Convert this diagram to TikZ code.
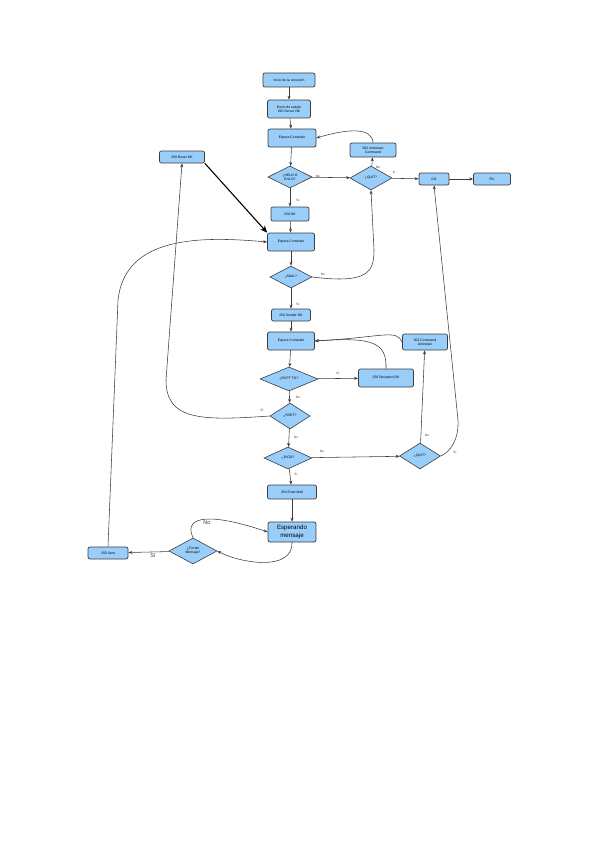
\documentclass[tikz,border=0pt]{standalone}
\usepackage{fontspec}
\setmainfont{Liberation Sans}
\usepackage{tikz}
\usetikzlibrary{arrows.meta,shapes.geometric}
\definecolor{boxblue}{RGB}{153,206,250}
\definecolor{edge}{RGB}{60,60,60}
\tikzset{
    box/.style={
        draw=edge,
        rounded corners=2pt,
        align=center,
        line width=0.7pt,
        inner sep=0.5pt,
        font=\fontsize{3.4}{4}\selectfont,
        fill=boxblue
    },
    decision/.style={
        draw=edge,
        diamond,
        aspect=2,
        align=center,
        inner sep=0pt,
        line width=0.6pt,
        font=\fontsize{3.4}{4}\selectfont,
        fill=boxblue
    },
    flow/.style={-{Stealth[length=4pt,width=3pt]}, draw=edge, line width=0.55pt},
    bigflow/.style={-{Stealth[length=7pt,width=6pt]}, draw=black, line width=1.1pt},
    lbl/.style={font=\fontsize{3.2}{4}\selectfont, inner sep=0pt, text=edge},
    biglbl/.style={font=\fontsize{5.5}{6}\selectfont, inner sep=0pt, text=edge}
}

\begin{document}
\begin{tikzpicture}[x=1pt, y=-1pt]
        \useasboundingbox (0,0) rectangle (599,848);
        % start of the session
        \node[box, minimum width=52pt, minimum height=14pt] (inicio) at (289,80) {Inicio de la conexión};
        \node[box, minimum width=43pt, minimum height=18pt] (saludo) at (289,109) {Envío de saludo\\220 Server OK};
        \node[box, minimum width=48pt, minimum height=18pt] (esp1) at (292,138) {Espera Comando};
        \node[box, minimum width=46pt, minimum height=14pt] (unk1) at (373,150) {502 Unknown\\Command};
        \node[box, minimum width=45pt, minimum height=12pt] (reset) at (182,157) {250 Reset OK};
        \node[decision, minimum width=44pt, minimum height=22pt] (helo) at (290,177) {¿HELO O\\EHLO?};
        \node[decision, minimum width=42pt, minimum height=24pt] (quit1) at (371,178) {¿QUIT?};
        \node[box, minimum width=30pt, minimum height=12pt] (bye) at (434,179) {221};
        \node[box, minimum width=37pt, minimum height=12pt] (fin) at (492,179) {Fin};
        \node[box, minimum width=38pt, minimum height=14pt] (ok1) at (290,214) {250 OK};
        % sender
        \node[box, minimum width=47pt, minimum height=18pt] (esp2) at (291,242) {Espera Comando};
        \node[decision, minimum width=42pt, minimum height=22pt] (mail) at (291,277) {¿MAIL?};
        \node[box, minimum width=39pt, minimum height=12pt] (sender) at (291,315) {250 Sender OK};
        % recipients
        \node[box, minimum width=47pt, minimum height=18pt] (esp3) at (291,341) {Espera Comando};
        \node[decision, minimum width=58pt, minimum height=24pt] (rcpt) at (289,379) {¿RCPT TO?};
        \node[box, minimum width=55pt, minimum height=18pt] (recip) at (386,378) {250 Recipient OK};
        \node[box, minimum width=45pt, minimum height=16pt] (unk2) at (425,342) {502 Command\\Unknown};
        \node[decision, minimum width=40pt, minimum height=26pt] (rset) at (290,416) {¿RSET?};
        \node[decision, minimum width=48pt, minimum height=22pt] (data) at (288,458) {¿DATA?};
        \node[decision, minimum width=41pt, minimum height=26pt] (quit2) at (420,456) {¿QUIT?};
        % message body
        \node[box, minimum width=49pt, minimum height=14pt] (enter) at (292,492) {354 Enter Mail};
        \node[box, minimum width=48pt, minimum height=20pt, font=\fontsize{6.2}{8.5}\selectfont] (espm) at (292,532) {Esperando\\mensaje};
        \node[decision, minimum width=48pt, minimum height=26pt] (finm) at (193,551) {¿Fin del\\Mensaje?};
        \node[box, minimum width=40pt, minimum height=12pt] (sent) at (108,553) {250 Sent};

        \draw[flow] (inicio) -- (saludo);
        \draw[flow] (saludo) -- (esp1);
        \draw[flow] (esp1) -- (helo);
        \draw[flow] (helo) -- (ok1);
        \draw[flow] (helo) -- (quit1);
        \draw[flow] (quit1) -- (unk1);
        \draw[flow] (unk1.north) .. controls (372,128) and (350,128) .. (esp1.east);
        \draw[flow] (quit1) -- (bye);
        \draw[flow] (bye) -- (fin);
        \draw[flow] (ok1) -- (esp2);
        \draw[bigflow] (reset.south east) -- (esp2.north west);
        \draw[flow] (esp2) -- (mail);
        \draw[flow] (mail.east) .. controls (368,284) and (374,272) .. (374,250) -- (quit1.south);
        \draw[flow] (mail) -- (sender);
        \draw[flow] (sender) -- (esp3);
        \draw[flow] (esp3) -- (rcpt);
        \draw[flow] (rcpt) -- (recip);
        \draw[flow] (recip.north) .. controls (387,342) and (372,337) .. (esp3.east);
        \draw[flow] (unk2.west) .. controls (396,329) and (385,337) .. (esp3.east);
        \draw[flow] (rcpt) -- (rset);
        \draw[flow] (rset.west) .. controls (200,421) and (166,420) .. (166,380) -- (reset.south);
        \draw[flow] (rset) -- (data);
        \draw[flow] (data) -- (quit2);
        \draw[flow] (quit2) -- (unk2);
        \draw[flow] (quit2.east) .. controls (450,452) and (459,440) .. (458,420) -- (bye.south);
        \draw[flow] (data) -- (enter);
        \draw[flow] (enter) -- (espm);
        \draw[flow] (espm.south) .. controls (293,572) and (240,563) .. (finm.east);
        \draw[flow] (finm.north) .. controls (182,514) and (215,514) .. (espm.west);
        \draw[flow] (finm) -- (sent);
        \draw[flow] (sent.north) -- (118,300) .. controls (125,236) and (200,236) .. (esp2.west);

        % branch labels
        \node[lbl] (l1) at (318,176) {No};
        \node[lbl] (l2) at (298,200) {Sí};
        \node[lbl] (l3) at (378,167) {No};
        \node[lbl] (l4) at (394,172) {sí};
        \node[lbl] (l5) at (323,274) {No};
        \node[lbl] (l6) at (298,304) {Sí};
        \node[lbl] (l7) at (338,373) {Sí};
        \node[lbl] (l8) at (298,397) {No};
        \node[lbl] (l9) at (262,410) {Sí};
        \node[lbl] (l10) at (296,437) {No};
        \node[lbl] (l11) at (322,451) {No};
        \node[lbl] (l12) at (296,474) {Sí};
        \node[lbl] (l13) at (427,435) {No};
        \node[lbl] (l14) at (455,452) {Sí};
        \node[biglbl] (l15) at (207,523) {No};
        \node[biglbl] (l16) at (153,555) {Sí};
\end{tikzpicture}
\end{document}
